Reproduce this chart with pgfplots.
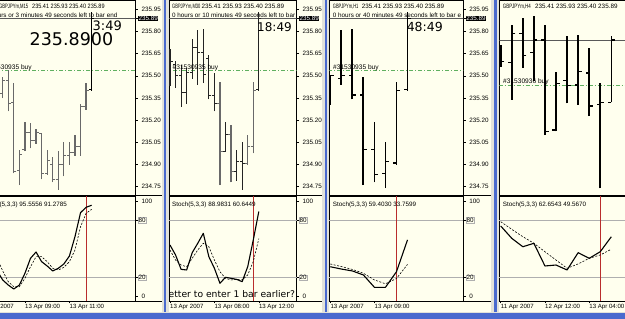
\documentclass[border=0pt]{standalone}
\usepackage{graphicx}
\usepackage{pgfplots}
\pgfplotsset{compat=1.18}
\usepackage{fontspec}
\setmainfont{Liberation Sans}
\newfontfamily\dejavu{DejaVu Sans}
\definecolor{cream}{RGB}{255,255,238}
\definecolor{mtblue}{RGB}{74,106,206}
\definecolor{mtframe}{RGB}{226,226,218}
\definecolor{buygreen}{RGB}{96,176,96}
\definecolor{vred}{RGB}{185,45,45}
\definecolor{bargray}{RGB}{105,105,105}
\definecolor{bardark}{RGB}{35,35,35}
\definecolor{levelgray}{RGB}{175,175,175}
\newcommand\sm{\fontsize{6.3}{7}\selectfont}
\newcommand\smb{\fontsize{6.6}{7}\selectfont}
\newcommand\dt{\fontsize{6.1}{7}\selectfont}

\pgfplotsset{
  mtbase/.style={scale only axis, anchor=south west, clip=true,
    clip marker paths=true,
    axis background/.style={fill=cream},
    axis line style={black, line width=0.6pt},
    tick style={black, line width=0.5pt},
    major tick length=2.5pt, tick align=outside,
    ticklabel style={font=\sm, text=black},
    /pgf/number format/assume math mode=true,
    unbounded coords=jump},
  pricebase/.style={mtbase, height=194.5pt, xtick=\empty, ytick pos=right,
    yticklabel pos=right, scaled y ticks=false},
  pricepane/.style={pricebase,
    ymin=234.694, ymax=236.0095,
    ytick={234.75,234.90,235.05,235.20,235.35,235.50,235.65,235.80,235.95},
    yticklabel style={/pgf/number format/fixed, /pgf/number format/fixed zerofill, /pgf/number format/precision=2},
    extra y ticks={235.89},
    extra y tick style={yticklabel style={fill=black, text=white, inner sep=0.4pt}}},
  stochpane/.style={mtbase, height=104.5pt, ymin=-4.5, ymax=104.7,
    ytick pos=right, yticklabel pos=right, ytick={0,100},
    extra y ticks={20,80},
    extra y tick style={grid=major, major grid style={levelgray, line width=0.5pt},
       yticklabel style={draw=levelgray, inner sep=0.5pt}},
    xtick pos=left,
    xticklabel style={anchor=north west, font=\dt, inner sep=0.5pt, xshift=-0.5pt}},
  hl/.style={line width=1.2pt, line cap=butt},
  hlb/.style={line width=1.8pt, line cap=butt},
  otick/.style={only marks, mark=-, mark size=1.3pt, mark options={xshift=-1.3pt, line width=1pt}},
  ctick/.style={only marks, mark=-, mark size=1.3pt, mark options={xshift=1.3pt, line width=1pt}},
  otickb/.style={only marks, mark=-, mark size=1.8pt, mark options={xshift=-1.8pt, line width=1.2pt}},
  ctickb/.style={only marks, mark=-, mark size=1.8pt, mark options={xshift=1.8pt, line width=1.2pt}},
  buyline/.style={buygreen, line width=0.8pt, dash pattern=on 4pt off 2pt on 1pt off 2pt},
  bidline/.style={black!65, line width=0.5pt},
  kline/.style={black, line width=1.1pt, line join=round},
  dline/.style={black, line width=0.6pt, dash pattern=on 2pt off 1.5pt},
  redline/.style={vred, line width=0.7pt},
}

\begin{document}
\begin{tikzpicture}
\path[use as bounding box] (0pt,0pt) rectangle (625pt,319pt);
\fill[cream] (0pt,0pt) rectangle (625pt,319pt);
\begin{scope}
\clip (0pt,0pt) rectangle (625pt,319pt);

% ================= Panel 1 : M15 =================
\begin{axis}[pricepane, at={(-25pt,124pt)}, width=160.5pt, xmin=-4.98, xmax=23.885]
\addplot[buyline] coordinates {(-6,235.535)(30,235.535)};
\addplot[bidline] coordinates {(-6,235.89)(30,235.89)};
\addplot[hl, bargray] coordinates {
(0,235.35)(0,235.49)(0,nan) (1,235.26)(1,235.54)(1,nan) (2,234.84)(2,235.45)(2,nan)
(3,234.76)(3,235.00)(3,nan) (4,234.99)(4,235.19)(4,nan) (5,235.01)(5,235.18)(5,nan)
(6,235.04)(6,235.14)(6,nan) (7,234.80)(7,235.11)(7,nan) (8,234.83)(8,235.00)(8,nan)
(9,234.78)(9,234.95)(9,nan) (10,234.73)(10,234.99)(10,nan) (11,234.82)(11,235.05)(11,nan)
(12,234.90)(12,235.05)(12,nan) (13,234.96)(13,235.10)(13,nan) (14,234.96)(14,235.31)(14,nan)
(15,235.27)(15,235.45)};
\addplot[hl, black] coordinates {(16,235.40)(16,235.93)};
\addplot[otick, bargray] coordinates {(0,235.38)(1,235.47)(2,235.32)(3,234.86)(4,235.00)(5,235.12)(6,235.06)(7,235.11)(8,234.84)(9,234.90)(10,234.80)(11,234.90)(12,234.96)(13,234.98)(14,235.02)(15,235.29)};
\addplot[ctick, bargray] coordinates {(0,235.47)(1,235.31)(2,234.85)(3,234.97)(4,235.12)(5,235.06)(6,235.12)(7,234.84)(8,234.93)(9,234.80)(10,234.90)(11,234.96)(12,234.98)(13,235.02)(14,235.29)(15,235.40)};
\addplot[otick, black] coordinates {(16,235.41)};
\addplot[ctick, black] coordinates {(16,235.89)};
\end{axis}
\begin{axis}[stochpane, at={(-25pt,18pt)}, width=160.5pt, xmin=-4.98, xmax=23.885,
  xtick={-4,4,12}, xticklabels={13 Apr 2007,13 Apr 09:00,13 Apr 11:00}]
\addplot[redline] coordinates {(15,-10)(15,110)};
\addplot[dline] coordinates {(-1,40)(0,27)(1,15.7)(2,10.4)(3,10.4)(4,19.2)(5,31.3)(6,41.8)(7,41.8)(8,36.6)(9,29.7)(10,27.9)(11,30.7)(12,36.6)(13,48.8)(14,73.1)(15,87.1)(16,91.28)};
\addplot[kline] coordinates {(-1,27)(0,17.5)(1,12.2)(2,8.0)(3,12.2)(4,24.4)(5,40.1)(6,46.7)(7,36.6)(8,32.1)(9,26.9)(10,29.7)(11,34.2)(12,42.5)(13,62.7)(14,87.8)(15,93.4)(16,95.56)};
\end{axis}

% ================= Panel 2 : M30 =================
\begin{axis}[pricepane, at={(169pt,124pt)}, width=127.5pt, xmin=-0.18, xmax=22.79]
\addplot[buyline] coordinates {(-1,235.535)(30,235.535)};
\addplot[bidline] coordinates {(-1,235.89)(30,235.89)};
\addplot[hl, bardark] coordinates {
(0,235.43)(0,235.68)(0,nan) (1,235.42)(1,235.60)(1,nan) (2,235.29)(2,235.57)(2,nan)
(3,235.31)(3,235.55)(3,nan) (4,235.48)(4,235.75)(4,nan) (5,235.44)(5,235.81)(5,nan)
(6,235.45)(6,235.82)(6,nan) (7,235.34)(7,235.64)(7,nan) (8,235.26)(8,235.52)(8,nan)
(10,234.99)(10,235.19)(10,nan) (12,234.79)(12,235.00)(12,nan) (13,234.73)(13,235.05)(13,nan)
(16,235.40)(16,235.93)};
\addplot[hl, bargray] coordinates {
(9,234.76)(9,235.455)(9,nan) (11,234.78)(11,235.17)(11,nan) (14,234.90)(14,235.10)(14,nan)
(15,234.976)(15,235.455)};
\addplot[otick, bardark] coordinates {(0,235.55)(1,235.58)(2,235.50)(3,235.39)(4,235.52)(5,235.69)(6,235.66)(7,235.62)(8,235.37)(10,234.99)(12,234.85)(13,234.92)(16,235.41)};
\addplot[ctick, bardark] coordinates {(0,235.60)(1,235.50)(2,235.39)(3,235.52)(4,235.69)(5,235.66)(6,235.51)(7,235.37)(8,235.31)(10,235.10)(12,234.92)(13,234.91)(16,235.89)};
\addplot[otick, bargray] coordinates {(9,235.31)(11,235.10)(14,234.91)(15,235.02)};
\addplot[ctick, bargray] coordinates {(9,234.99)(11,234.85)(14,235.02)(15,235.40)};
\end{axis}
\begin{axis}[stochpane, at={(169pt,18pt)}, width=127.5pt, xmin=-0.18, xmax=22.79,
  xtick={0,8,16}, xticklabels={13 Apr 2007,13 Apr 08:00,13 Apr 12:00}]
\addplot[redline] coordinates {(15,-10)(15,110)};
\addplot[dline] coordinates {(0,48.8)(1,38.3)(2,33.1)(3,31.3)(4,40.1)(5,48.8)(6,55.8)(7,52.2)(8,38.3)(9,26.1)(10,19.2)(11,17.5)(12,18.1)(13,17.5)(14,22.7)(15,36.6)(16,60.64)};
\addplot[kline] coordinates {(0,54.0)(1,43.6)(2,28.6)(3,27.9)(4,46.0)(5,55.8)(6,66.2)(7,41.8)(8,29.7)(9,14.0)(10,20.3)(11,19.2)(12,18.1)(13,15.7)(14,31.3)(15,59.2)(16,88.98)};
\end{axis}

% ================= Panel 3 : H1 =================
\begin{axis}[pricepane, at={(329.3pt,124pt)}, width=134pt, xmin=-0.0907, xmax=12.058]
\addplot[buyline] coordinates {(-1,235.535)(20,235.535)};
\addplot[bidline] coordinates {(-1,235.89)(20,235.89)};
\addplot[hlb, black] coordinates {
(0,235.30)(0,235.505)(0,nan) (1,235.44)(1,235.81)(1,nan) (2,235.34)(2,235.82)(2,nan)
(3,234.76)(3,235.49)(3,nan) (4,234.78)(4,235.19)(4,nan) (5,234.74)(5,235.05)(5,nan)
(6,234.90)(6,235.46)(6,nan) (7,235.40)(7,235.93)};
\addplot[otickb, black] coordinates {(0,235.40)(1,235.48)(2,235.50)(3,235.37)(4,235.00)(5,234.84)(6,234.91)(7,235.41)};
\addplot[ctickb, black] coordinates {(0,235.50)(1,235.50)(2,235.37)(3,235.00)(4,234.83)(5,234.92)(6,235.40)(7,235.89)};
\end{axis}
\begin{axis}[stochpane, at={(329.3pt,18pt)}, width=134pt, xmin=-0.0907, xmax=12.058,
  xtick={0,4}, xticklabels={13 Apr 2007,13 Apr 09:00}]
\addplot[redline] coordinates {(6,-10)(6,110)};
\addplot[dline] coordinates {(0,34.2)(1,31.5)(2,28.5)(3,24.5)(4,17.5)(5,13.5)(6,19.0)(7,33.76)};
\addplot[kline] coordinates {(0,31.3)(1,28.9)(2,26.9)(3,22.7)(4,9.8)(5,9.8)(6,26.1)(7,59.40)};
\end{axis}

% ================= Panel 4 : H4 =================
\begin{axis}[pricebase, at={(499.3pt,124pt)}, width=140pt, xmin=-0.127, xmax=12.53,
  ymin=234.667, ymax=236.202, ytick=\empty]
\addplot[buyline] coordinates {(-1,235.535)(20,235.535)};
\addplot[bidline] coordinates {(-1,235.89)(20,235.89)};
\addplot[line width=1.6pt, line cap=butt, black] coordinates {
(0,235.68)(0,235.85)(0,nan) (1,235.42)(1,236.01)(1,nan) (2,235.67)(2,236.06)(2,nan)
(3,235.57)(3,236.08)(3,nan) (4,235.14)(4,236.01)(4,nan) (5,235.17)(5,235.64)(5,nan)
(6,235.39)(6,235.92)(6,nan) (7,235.38)(7,235.93)(7,nan) (8,235.29)(8,235.83)(8,nan)
(10,235.40)(10,235.92)};
\addplot[line width=2.4pt, line cap=butt, black] coordinates {(9,234.72)(9,235.55)};
\addplot[otickb, black] coordinates {(0,235.78)(1,235.71)(2,235.94)(3,235.79)(4,235.89)(5,235.18)(6,235.57)(7,235.535)(8,235.63)(9,235.38)(10,235.40)};
\addplot[ctickb, black] coordinates {(0,235.72)(1,235.94)(2,235.77)(3,235.89)(4,235.17)(5,235.55)(6,235.53)(7,235.64)(8,235.37)(9,235.40)(10,235.89)};
\end{axis}
\begin{axis}[stochpane, at={(499.3pt,18pt)}, width=140pt, xmin=-0.127, xmax=12.53,
  xtick={0,4,8}, xticklabels={11 Apr 2007,12 Apr 12:00,13 Apr 04:00}]
\addplot[redline] coordinates {(9,-10)(9,110)};
\addplot[dline] coordinates {(0,78.4)(1,70.4)(2,62.7)(3,55.8)(4,47.0)(5,38.3)(6,29.7)(7,34.2)(8,40.1)(9,43.6)(10,49.57)};
\addplot[kline] coordinates {(0,73.9)(1,61.0)(2,52.2)(3,55.8)(4,32.1)(5,33.1)(6,27.9)(7,46.0)(8,40.1)(9,47.0)(10,62.65)};
\end{axis}
\end{scope}

% ================= Texts =================
\begin{scope}[x=1pt,y=1pt]
% pane separators across the label columns
\draw[black, line width=0.6pt] (135.5,124) -- (161.5,124) (135.5,18) -- (161.5,18);
\draw[black, line width=0.6pt] (296.5,124) -- (321.5,124) (296.5,18) -- (321.5,18);
\draw[black, line width=0.6pt] (463.3,124) -- (491,124) (463.3,18) -- (491,18);
% panel 1
\begin{scope}
\clip (0,18) rectangle (135.5,318.6);
\node[anchor=base east, inner sep=0, font=\sm] at (28.5,310) {\scalebox{0.66}[1]{GBPJPYm,M15}};
\node[anchor=base west, inner sep=0, font=\sm] at (32,310) {\scalebox{0.88}[1]{235.41 235.93 235.40 235.89}};
\node[anchor=base east, inner sep=0, font=\sm] at (117.5,301.8) {0 hours or 3 minutes 49 seconds left to bar end};
\node[anchor=base west, inner sep=0, font=\smb] at (-14,249.8) {\#31530935 buy};
\node[anchor=base west, inner sep=0, font=\dejavu\fontsize{17.5}{18}\selectfont] at (29.5,273.6) {235.8900};
\node[anchor=base east, inner sep=0, font=\dejavu\fontsize{13}{13}\selectfont] at (122,288.2) {3:49};
\node[anchor=base east, inner sep=0, font=\sm] at (67,112.3) {Stoch(5,3,3) 95.5556 91.2785};
\end{scope}
% panel 2
\begin{scope}
\clip (169,18) rectangle (296.5,318.6);
\node[anchor=base west, inner sep=0, font=\sm] at (172,310) {\scalebox{0.64}[1]{GBPJPYm,M30}};
\node[anchor=base west, inner sep=0, font=\sm] at (201.5,310) {235.41 235.93 235.40 235.89};
\node[anchor=base west, inner sep=0, font=\sm] at (172,301.8) {0 hours or 10 minutes 49 seconds left to bar};
\node[anchor=base west, inner sep=0, font=\smb] at (172.5,249.8) {\#31530935 buy};
\node[anchor=base east, inner sep=0, font=\dejavu\fontsize{12}{12}\selectfont] at (292,287.5) {18:49};
\node[anchor=base west, inner sep=0, font=\sm] at (172,112.3) {Stoch(5,3,3) 88.9831 60.6449};
\end{scope}
\node[anchor=base west, inner sep=0, font=\dejavu\fontsize{9.2}{10}\selectfont] at (168.5,21.8) {etter to enter 1 bar earlier?};
% panel 3
\begin{scope}
\clip (329.3,18) rectangle (463.3,318.6);
\node[anchor=base west, inner sep=0, font=\sm] at (332.7,310) {\scalebox{0.64}[1]{GBPJPYm,H1}};
\node[anchor=base west, inner sep=0, font=\sm] at (361.7,310) {235.41 235.93 235.40 235.89};
\node[anchor=base west, inner sep=0, font=\sm] at (332.7,301.8) {0 hours or 40 minutes 49 seconds left to bar e};
\node[anchor=base west, inner sep=0, font=\smb] at (333,249.8) {\#31530935 buy};
\node[anchor=base east, inner sep=0, font=\dejavu\fontsize{12.5}{12.5}\selectfont] at (443,287.5) {48:49};
\node[anchor=base west, inner sep=0, font=\sm] at (332.7,112.3) {Stoch(5,3,3) 59.4030 33.7599};
\end{scope}
% panel 4
\begin{scope}
\clip (499.3,18) rectangle (625,318.6);
\node[anchor=base west, inner sep=0, font=\sm] at (502.7,310) {\scalebox{0.7}[1]{GBPJPYm,H4}};
\node[anchor=base west, inner sep=0, font=\sm] at (535,310) {235.41 235.93 235.40 235.89};
\node[anchor=base west, inner sep=0, font=\smb] at (503,235) {\#31530936 buy};
\node[anchor=base west, inner sep=0, font=\sm] at (502.7,112.3) {Stoch(5,3,3) 62.6543 49.5670};
\end{scope}
% window frames
\fill[mtframe] (161.5,0) rectangle (168.6,319);
\fill[mtblue] (163.5,0) rectangle (166,319);
\fill[mtframe] (321.5,0) rectangle (329,319);
\fill[mtblue] (324.5,0) rectangle (327,319);
\fill[mtframe] (491,0) rectangle (499,319);
\fill[mtblue] (494,0) rectangle (496.5,319);
\fill[mtframe] (0,5.5) rectangle (625,6.8);
\fill[mtblue] (0,0) rectangle (625,5.5);
\end{scope}
\end{tikzpicture}
\end{document}
